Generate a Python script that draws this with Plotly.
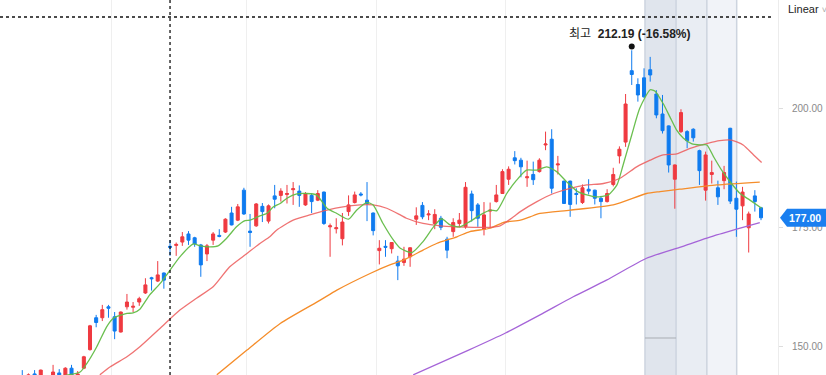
import plotly.graph_objects as go

# ---------------- data ----------------
opens = [143.8,143.0,144.2,143.0,143.6,143.2,144.4,143.5,145.4,143.6,
         145.4,149.3,156.0,156.0,158.3,156.2,153.0,158.3,158.2,159.3,
         161.2,164.4,163.7,165.4,171.0,171.2,171.9,173.6,172.8,171.3,
         169.4,172.3,173.3,174.0,178.0,176.5,182.8,174.2,175.3,179.4,
         176.3,181.6,181.7,181.9,182.9,182.6,179.7,181.7,180.7,182.4,
         175.1,174.7,172.6,178.3,180.2,182.0,180.7,178.0,170.1,171.0,
         170.5,167.9,167.6,168.8,176.7,179.6,177.6,175.8,176.9,172.5,
         174.1,175.8,175.1,182.0,179.7,174.6,178.4,180.4,182.1,185.1,
         189.6,189.1,185.4,186.1,186.7,192.3,193.5,188.1,184.7,184.7,
         182.1,180.2,183.0,182.8,181.1,180.4,184.0,190.0,192.9,207.9,
         205.0,206.4,208.1,203.0,198.8,196.3,185.1,195.1,195.1,195.6,
         191.1,182.8,186.1,183.3,184.8,195.8,181.1,179.5,174.9,181.6,
         179.1]
highs = [145.0,144.3,145.0,145.1,143.8,146.1,145.2,145.6,146.1,144.8,
         148.0,154.5,156.6,158.7,158.7,157.2,157.3,161.0,159.3,160.4,
         164.3,164.6,167.9,165.5,172.3,171.8,174.0,174.2,173.0,171.5,
         171.5,174.0,174.6,176.9,179.3,179.9,183.3,177.8,180.1,180.1,
         179.8,183.9,183.2,183.9,184.5,183.8,182.4,182.1,182.8,182.5,
         175.8,176.9,178.0,181.7,182.5,182.4,184.5,178.1,172.3,172.3,
         171.9,169.0,170.9,170.8,179.2,180.3,178.6,178.8,177.4,173.0,
         176.9,178.0,184.5,182.7,180.1,180.3,180.2,183.9,187.2,187.8,
         191.0,189.6,189.0,188.8,189.5,195.1,195.6,190.0,184.8,184.8,
         183.2,184.0,185.1,182.9,181.6,183.0,187.5,192.0,203.0,212.19,
         206.3,208.4,210.8,203.8,202.8,196.4,188.2,199.8,195.4,195.8,
         191.3,190.9,189.0,184.8,187.9,195.9,184.6,183.5,178.3,182.8,
         179.3]
lows = [142.5,142.6,142.8,142.7,142.4,142.9,143.0,143.2,143.2,143.3,
        145.2,149.1,154.0,155.3,156.0,151.5,152.9,157.7,157.2,158.5,
        161.0,161.7,163.5,162.1,169.0,169.0,171.1,171.3,170.9,164.6,
        167.9,171.3,172.9,173.8,175.4,176.3,177.6,170.9,175.1,176.1,
        175.8,179.0,180.4,180.0,179.7,179.3,179.5,178.0,180.5,175.5,
        168.8,173.7,171.2,177.4,180.0,181.5,176.3,173.3,167.2,168.8,
        169.5,163.9,166.9,166.7,175.5,176.7,176.5,174.6,174.4,168.5,
        173.0,175.0,174.7,176.2,175.1,173.3,174.8,180.2,182.0,183.9,
        188.2,185.5,183.5,183.9,186.5,191.2,182.1,186.1,179.9,177.2,
        179.8,179.9,181.9,179.8,176.9,180.2,183.6,188.4,191.9,204.9,
        201.4,202.2,205.6,197.9,194.7,186.5,178.9,194.8,191.6,193.0,
        183.9,180.6,184.2,179.7,183.0,179.9,173.0,176.5,169.7,178.3,
        176.5]
closes = [143.2,144.0,143.4,145.0,143.0,144.6,143.4,145.4,143.6,144.2,
          147.8,154.3,155.0,157.7,158.0,153.2,157.2,159.3,158.4,160.0,
          162.9,164.2,165.0,163.9,170.8,171.4,173.0,172.3,171.5,167.1,
          171.1,173.6,173.1,176.7,175.5,179.3,177.8,173.9,179.9,178.3,
          179.5,180.9,182.6,182.1,183.1,181.7,182.1,180.4,182.1,175.8,
          175.3,174.9,176.1,179.7,181.8,181.8,180.0,174.3,170.6,170.8,
          171.8,166.9,168.3,170.7,177.4,177.2,177.8,177.7,175.0,170.2,
          176.0,176.5,183.4,178.5,176.9,177.6,178.6,181.8,186.7,187.2,
          189.0,187.7,185.6,185.0,189.1,192.5,183.2,188.3,180.0,179.8,
          181.9,183.3,182.6,181.1,180.4,182.1,186.1,191.4,200.9,207.1,
          202.8,202.4,207.0,198.6,195.3,188.1,188.1,199.1,193.2,193.8,
          186.9,190.2,186.5,181.4,186.5,180.5,178.8,182.4,177.8,180.4,
          177.0]
days = list(range(len(closes)))

# moving averages (position in trading days, price)
ma5_day = [7,9.4,10.5,12.1,13.7,14.8,17,18,19.1,20.7,22.4,24,25.6,27.8,28.9,30.5,31.8,33.2,34.8,36.2,37,38.6,39.7,
           40.8,41.9,43,44.6,46.2,47.8,49.5,51.1,53,54.3,56,57,58.6,60.3,61.4,63.3,65.1,66.8,68.1,69.5,71.1,72.7,
           74.4,76,77.1,78.7,80.3,81.9,83.6,85.2,86.8,88.4,90.1,91.7,93.3,95.2,96.6,97.6,99,100.3,102,102.8,104.1,
           105.2,106.3,107.4,108.7,110.1,111.2,112.3,113.6,115.2,116.6,118.2,120.1]
ma5_val = [143.9,144.6,146.4,149.9,154.1,155.9,156.9,157.0,157.8,160.8,163.2,166.0,168.8,171.5,171.1,170.9,171.1,172.7,
           175.1,176.4,176.5,177.4,177.9,179.3,180.0,181.1,182.0,182.1,181.8,179.0,177.9,176.7,178.6,180.2,179.7,175.8,
           172.3,170.6,169.7,172.0,175.1,176.8,175.5,175.1,176.2,177.6,178.6,178.5,182.1,184.9,187.0,187.0,187.7,186.7,
           184.6,182.6,181.8,181.4,181.8,183.9,188.1,194.4,200.0,203.9,203.6,201.0,198.2,195.4,193.7,192.6,192.3,192.3,
           189.8,187.0,184.2,182.1,180.7,179.0]
ma20_day = [12.6,14.3,17,19.1,22.4,25.6,28.3,31,33.7,36.5,38.6,40.2,41.3,44,46.7,49.5,52.1,54.9,57,59.2,61.4,62.4,65.1,
            67.9,70.6,73.3,76,77.6,79.8,80.9,83.6,86.3,89,91.7,94.4,97.1,99.8,102,104.1,106.3,108.5,111.2,113.3,115.2,
            117.1,118.8,120.1]
ma20_val = [144.0,145.7,147.8,149.9,153.8,157.6,160.1,162.5,166.7,169.5,171.6,173.0,174.4,176.5,177.6,178.6,179.3,179.7,
            179.7,179.0,177.6,176.9,175.8,175.3,175.1,175.0,175.0,175.3,177.2,178.3,180.4,182.1,183.2,183.9,184.2,185.3,
            187.7,189.1,190.2,190.4,191.6,192.6,193.2,193.3,192.3,190.2,188.6]
ma60_day = [31.6,36.5,41.9,48.4,51.1,56.5,59.7,61.9,65.1,67.3,70.6,72.7,76,78.1,80.9,82.5,84.1,89,96,101.4,103.6,106.8,
            112.8,119.8]
ma60_val = [144.0,149.2,154.8,159.7,161.8,165.3,167.1,168.1,170.2,171.6,173.0,174.1,174.8,176.0,176.5,177.2,177.9,178.6,
            179.7,182.1,182.5,183.0,183.9,184.5]
ma120_day = [63.5,72.5,78.5,84.1,89.5,94.9,101.4,106.8,112.8,119.8]
ma120_val = [144.0,149.2,152.8,156.6,160.4,163.9,168.5,170.8,173.4,176.0]

y_ticks = [150, 175, 200]
y_tick_labels = ["150.00", "175.00", "200.00"]
month_breaks = [14.5, 36.5, 57.5, 78.5]
peak_day, peak_price, peak_text = 99, 212.19, "최고  <b>212.19 (-16.58%)</b>"
last_price, last_text = 177.00, "177.00"
crosshair_day, crosshair_price = 24, 219.18

RED = "#ef3a40"
BLUE = "#0f7bef"
FONT = "Liberation Sans, Noto Sans CJK KR, sans-serif"

fig = go.Figure()
fig.add_trace(go.Candlestick(
    x=days, open=opens, high=highs, low=lows, close=closes,
    increasing=dict(line=dict(color=RED, width=1), fillcolor=RED),
    decreasing=dict(line=dict(color=BLUE, width=1), fillcolor=BLUE),
    whiskerwidth=0, showlegend=False, hoverinfo="skip"))

for xs, ys, col in [(ma120_day, ma120_val, "#a564d8"), (ma60_day, ma60_val, "#f58d2a"),
                    (ma20_day, ma20_val, "rgba(236,90,90,0.85)"), (ma5_day, ma5_val, "rgba(98,188,70,0.95)")]:
    fig.add_trace(go.Scatter(x=xs, y=ys, mode="lines", line=dict(color=col, width=1.3, shape="spline", smoothing=0.6),
                             showlegend=False, hoverinfo="skip"))

shapes = []
# highlighted bands
bands = [(101.15, 106.2, "#e0e5ed"), (106.2, 111.2, "#e9edf3"), (111.2, 116.05, "#f1f3f8")]
for x0, x1, c in bands:
    shapes.append(dict(type="rect", xref="x", yref="paper", x0=x0, x1=x1, y0=0, y1=1,
                       fillcolor=c, line=dict(width=0), layer="below"))
for xb in [101.15, 106.2, 111.2, 116.05]:
    shapes.append(dict(type="line", xref="x", yref="paper", x0=xb, x1=xb, y0=0, y1=1,
                       line=dict(color="#cdd4df", width=1.5), layer="below"))
shapes.append(dict(type="line", xref="x", yref="y", x0=101.15, x1=106.2, y0=151.74, y1=151.74,
                   line=dict(color="#a9adb3", width=1), layer="below"))
# crosshair
shapes.append(dict(type="line", xref="x", yref="paper", x0=crosshair_day, x1=crosshair_day, y0=0, y1=1,
                   line=dict(color="#111", width=1.3, dash="dot")))
shapes.append(dict(type="line", xref="paper", yref="y", x0=0, x1=0.991, y0=crosshair_price, y1=crosshair_price,
                   line=dict(color="#111", width=1.3, dash="dot")))
# peak dot
shapes.append(dict(type="circle", xref="x", yref="y", xsizemode="pixel", ysizemode="pixel",
                   xanchor=peak_day, yanchor=peak_price, x0=-3, x1=3, y0=0.8, y1=6.8,
                   fillcolor="#111", line=dict(width=0)))
# last price tag
shapes.append(dict(type="path", xref="paper", yref="y", xsizemode="pixel", ysizemode="pixel",
                   xanchor=1, yanchor=last_price, path="M 2,0 L 9,9 L 48,9 L 48,-9 L 9,-9 Z",
                   fillcolor="#1a7ff0", line=dict(width=0), layer="above"))

fig.update_layout(
    width=826, height=375,
    margin=dict(l=0, r=48, t=0, b=0),
    paper_bgcolor="white", plot_bgcolor="white",
    boxgap=0.3,
    font=dict(family=FONT, size=12, color="#888"),
    xaxis=dict(range=[-3.62, 122.76], rangeslider=dict(visible=False), tickvals=month_breaks,
               showticklabels=False, showgrid=True, gridcolor="#efefef", gridwidth=1, zeroline=False,
               ticks="", showline=False, fixedrange=True),
    yaxis=dict(side="right", range=[143.97, 222.75], tickvals=y_ticks, ticktext=y_tick_labels,
               showgrid=False, zeroline=False, showline=True, linecolor="#ececec", linewidth=1,
               ticks="outside", ticklen=4, tickcolor="#dddddd", tickfont=dict(size=10, color="#8a8a8a", family=FONT),
               ticklabelstandoff=7),
    shapes=shapes,
    annotations=[
        dict(x=peak_day, y=peak_price, xref="x", yref="y", text=peak_text, showarrow=False,
             yshift=16, xshift=-2, font=dict(size=12, color="#222", family=FONT)),
        dict(x=1, y=last_price, xref="paper", yref="y", text="<b>" + last_text + "</b>", showarrow=False,
             xanchor="left", xshift=9, font=dict(size=10.5, color="white", family=FONT)),
        dict(x=1, y=1, xref="paper", yref="paper", text="Linear <span style='color:#aaa;font-size:9px'>˅</span>",
             showarrow=False, xanchor="left", yanchor="top", xshift=8, yshift=-1,
             font=dict(size=11, color="#222", family=FONT)),
    ],
)

fig.write_html("out.html", config={"displayModeBar": False},
               post_script="document.body.style.margin='0px';document.body.style.padding='0px';"
                           "document.body.style.overflow='hidden';")
